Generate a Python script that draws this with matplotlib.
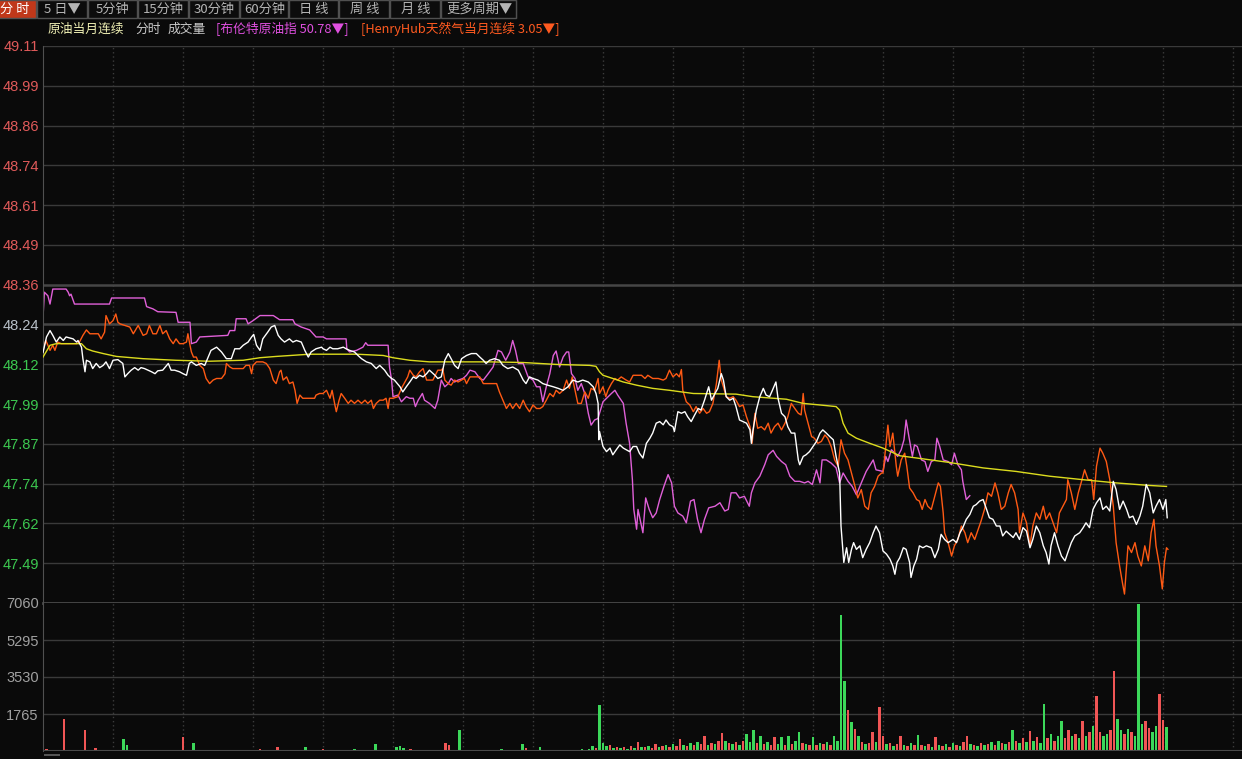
import numpy as np
import matplotlib
matplotlib.use('Agg')
import matplotlib.pyplot as plt
from matplotlib.patches import Rectangle

plt.rcParams['font.family'] = ['Noto Sans CJK SC', 'DejaVu Sans']

# ---- data (time index: 10 units per dotted grid column) ----
crude_t = [0, 0.5, 1.0, 1.4, 1.9, 2.4, 2.9, 3.3, 4.3, 4.8, 5.0, 5.5, 5.7, 6.0, 6.2, 6.7, 7.1, 7.6, 8.1, 8.6,
           9.0, 9.5, 10.0, 10.7, 11.4, 11.7, 12.1, 12.6, 13.1, 13.6, 14.0, 14.5, 15.0, 15.5, 16.0, 16.4, 17.1,
           17.9, 18.3, 18.8, 19.5, 20.0, 20.5, 20.9, 21.2, 21.9, 22.6, 23.1, 23.6, 24.0, 24.8, 25.5, 26.2, 26.9,
           27.4, 28.1, 28.6, 29.3, 29.8, 30.1, 30.5, 31.0, 31.4, 32.1, 32.6, 33.1, 33.6, 34.0, 34.5, 35.2, 35.7,
           36.2, 36.9, 37.4, 37.9, 38.3, 39.0, 39.8, 40.0, 40.5, 41.0, 41.4, 42.1, 42.9, 43.3, 43.8, 44.5, 45.0,
           45.5, 46.2, 46.9, 47.6, 48.1, 48.8, 49.3, 49.8, 50.2, 51.0, 51.4, 51.9, 52.4, 52.9, 53.3, 53.8, 54.3,
           54.8, 55.2, 56.0, 56.4, 56.9, 57.4, 57.9, 58.3, 58.8, 59.3, 59.8, 60.5, 61.2, 61.9, 62.4, 62.9, 63.3,
           63.8, 64.5, 65.2, 65.7, 66.4, 67.1, 67.9, 68.6, 69.0, 69.5, 70.0, 70.7, 71.4, 72.1, 72.9, 73.6, 74.3,
           75.0, 75.7, 76.4, 77.1, 77.9, 78.6, 79.0, 79.3, 79.4, 79.5, 80.0, 80.5, 81.0, 81.4, 81.9, 82.4, 82.9,
           83.3, 83.8, 84.3, 84.8, 85.2, 85.7, 86.2, 86.7, 87.1, 87.6, 88.1, 88.6, 89.0, 89.5, 90.0, 90.2, 90.7,
           91.2, 91.7, 92.1, 92.6, 93.1, 93.6, 94.0, 94.5, 95.1, 95.5, 96.0, 96.4, 96.9, 97.2, 97.6, 98.1, 98.6,
           99.0, 99.5, 100.0, 100.5, 101.0, 101.2, 101.4, 101.9, 102.4, 102.9, 103.3, 103.8, 104.2, 104.7, 105.0,
           105.5, 106.0, 106.4, 106.9, 107.4, 107.9, 108.1, 108.6, 109.0, 109.5, 110.0, 110.5, 111.0, 111.4,
           111.9, 112.4, 112.9, 113.3, 113.8, 114.0, 114.4, 114.8, 115.1, 115.5, 115.8, 116.2, 116.7, 117.1,
           117.6, 118.1, 118.6, 119.0, 119.5, 120.0, 120.5, 121.0, 121.4, 121.7, 122.0, 122.4, 122.9, 123.3,
           123.8, 124.0, 124.4, 124.8, 125.2, 125.7, 126.2, 126.9, 127.4, 127.9, 128.3, 128.8, 129.3, 130.0,
           130.5, 131.0, 131.4, 131.9, 132.4, 132.9, 133.3, 133.8, 134.3, 134.8, 135.2, 135.7, 136.2, 136.7,
           137.1, 137.6, 138.1, 138.6, 139.0, 139.5, 140.0, 140.5, 141.0, 141.4, 141.9, 142.4, 142.9, 143.3,
           143.7, 144.0, 144.5, 145.0, 145.5, 146.0, 146.4, 146.9, 147.4, 148.1, 148.6, 149.0, 149.5, 150.0,
           150.5, 151.0, 151.4, 151.9, 152.4, 152.9, 153.3, 153.8, 154.3, 154.8, 155.2, 155.7, 156.2, 156.7,
           157.1, 157.6, 158.1, 158.6, 159.0, 159.5, 160.0, 160.4, 160.6]
crude_v = [48.15, 48.199, 48.219, 48.204, 48.183, 48.199, 48.188, 48.199, 48.193, 48.183, 48.188, 48.167, 48.131,
           48.09, 48.126, 48.121, 48.10, 48.116, 48.103, 48.11, 48.121, 48.10, 48.126, 48.128, 48.116, 48.074,
           48.084, 48.095, 48.103, 48.095, 48.103, 48.10, 48.095, 48.09, 48.084, 48.093, 48.095, 48.116, 48.095,
           48.095, 48.09, 48.084, 48.079, 48.116, 48.121, 48.11, 48.116, 48.11, 48.136, 48.157, 48.167, 48.152,
           48.131, 48.131, 48.162, 48.162, 48.173, 48.183, 48.199, 48.207, 48.173, 48.157, 48.193, 48.214, 48.23,
           48.235, 48.204, 48.193, 48.183, 48.193, 48.183, 48.188, 48.183, 48.157, 48.136, 48.152, 48.162, 48.167,
           48.162, 48.157, 48.167, 48.162, 48.162, 48.167, 48.162, 48.157, 48.152, 48.141, 48.131, 48.121, 48.116,
           48.10, 48.11, 48.095, 48.079, 48.069, 48.064, 48.043, 48.027, 48.043, 48.058, 48.074, 48.069, 48.079,
           48.074, 48.084, 48.095, 48.079, 48.069, 48.074, 48.126, 48.147, 48.131, 48.11, 48.10, 48.131, 48.141,
           48.147, 48.147, 48.136, 48.126, 48.116, 48.126, 48.131, 48.126, 48.11, 48.10, 48.105, 48.095, 48.064,
           48.053, 48.074, 48.069, 48.064, 48.053, 48.048, 48.043, 48.038, 48.032, 48.043, 48.064, 48.058, 48.064,
           48.058, 48.043, 48.022, 47.991, 47.877, 47.903, 47.856, 47.84, 47.851, 47.83, 47.846, 47.861, 47.851,
           47.846, 47.84, 47.856, 47.856, 47.835, 47.82, 47.866, 47.882, 47.898, 47.929, 47.934, 47.924, 47.939,
           47.924, 47.918, 47.903, 47.965, 47.96, 47.965, 47.949, 47.934, 47.955, 47.975, 47.97, 48.001, 48.043,
           48.001, 48.022, 48.038, 48.084, 48.064, 48.012, 48.001, 48.007, 47.981, 47.939, 47.934, 47.929, 47.908,
           47.866, 47.903, 47.97, 48.012, 48.038, 48.017, 48.012, 48.032, 48.058, 48.007, 47.96, 47.949, 47.918,
           47.898, 47.898, 47.814, 47.799, 47.825, 47.83, 47.84, 47.856, 47.872, 47.898, 47.908, 47.898, 47.887,
           47.877, 47.825, 47.773, 47.607, 47.493, 47.539, 47.493, 47.534, 47.555, 47.534, 47.545, 47.508, 47.534,
           47.555, 47.586, 47.607, 47.586, 47.529, 47.519, 47.503, 47.482, 47.456, 47.493, 47.508, 47.539, 47.534,
           47.493, 47.446, 47.482, 47.503, 47.545, 47.539, 47.545, 47.539, 47.508, 47.534, 47.581, 47.565, 47.555,
           47.565, 47.555, 47.586, 47.602, 47.628, 47.643, 47.669, 47.674, 47.685, 47.69, 47.659, 47.633, 47.628,
           47.607, 47.607, 47.576, 47.591, 47.581, 47.571, 47.586, 47.565, 47.602, 47.591, 47.539, 47.565, 47.607,
           47.586, 47.545, 47.524, 47.488, 47.545, 47.586, 47.545, 47.513, 47.498, 47.524, 47.555, 47.576, 47.586,
           47.602, 47.617, 47.602, 47.659, 47.68, 47.695, 47.659, 47.669, 47.654, 47.747, 47.721, 47.659, 47.685,
           47.659, 47.633, 47.638, 47.612, 47.638, 47.669, 47.737, 47.711, 47.648, 47.669, 47.69, 47.659, 47.69,
           47.633]

avg_t = [0, 1.0, 1.9, 4.8, 5.5, 6.2, 7.1, 8.6, 10.5, 14.3, 19.0, 23.8, 28.6, 31.0, 33.3, 38.1, 40.0, 44.8, 48.6,
         50.0, 52.4, 55.2, 59.0, 63.8, 68.6, 73.3, 78.1, 79.0, 79.5, 80.0, 81.4, 82.9, 84.8, 87.1, 89.5, 92.9,
         99.0, 101.4, 106.2, 108.6, 111.0, 113.3, 113.8, 114.3, 115.0, 116.2, 118.1, 120.0, 122.4, 124.8, 129.5,
         134.3, 139.0, 143.8, 148.6, 153.3, 158.1, 160.5]
avg_v = [48.136, 48.173, 48.178, 48.178, 48.178, 48.162, 48.155, 48.147, 48.138, 48.131, 48.126, 48.123, 48.126,
         48.134, 48.138, 48.145, 48.145, 48.145, 48.141, 48.134, 48.126, 48.121, 48.121, 48.121, 48.119, 48.113,
         48.11, 48.107, 48.09, 48.079, 48.069, 48.058, 48.048, 48.038, 48.032, 48.022, 48.02, 48.012, 48.004,
         47.991, 47.986, 47.981, 47.97, 47.929, 47.898, 47.882, 47.866, 47.851, 47.827, 47.82, 47.806, 47.789,
         47.778, 47.763, 47.752, 47.742, 47.734, 47.731]

brent_t = [0, 0.2, 0.7, 1.0, 1.4, 3.3, 3.6, 3.8, 4.0, 4.5, 9.5, 9.8, 14.5, 14.8, 15.7, 16.4, 19.0, 19.3, 21.0, 21.2,
           21.9, 22.4, 26.4, 26.7, 27.4, 27.6, 29.0, 29.3, 30.0, 31.0, 32.9, 33.8, 35.7, 36.0, 36.9, 38.1, 39.0,
           40.0, 40.5, 43.3, 43.4, 43.8, 44.8, 45.7, 46.1, 46.4, 49.3, 49.5, 49.8, 50.0, 50.7, 51.2, 51.9, 52.4,
           52.9, 53.2, 53.6, 54.2, 54.5, 55.2, 56.0, 56.4, 56.9, 57.4, 57.9, 58.3, 58.8, 59.3, 60.0, 60.5, 61.0,
           61.7, 62.4, 62.9, 63.6, 64.3, 65.0, 65.5, 66.1, 66.7, 67.1, 67.5, 67.9, 68.6, 69.3, 70.0, 70.5, 71.0,
           71.4, 71.9, 72.4, 72.9, 73.3, 73.8, 74.3, 74.8, 75.1, 75.5, 76.0, 76.4, 76.9, 77.4, 77.9, 78.3, 78.8,
           79.3, 79.5, 80.0, 80.5, 81.2, 81.7, 82.1, 82.9, 83.3, 83.8, 84.2, 84.4, 84.6, 84.8, 85.0, 85.3, 85.7,
           86.1, 86.6, 87.1, 87.6, 88.1, 88.7, 89.3, 89.8, 90.2, 90.7, 91.4, 91.9, 92.5, 93.0, 93.5, 94.0, 94.5,
           95.1, 96.0, 96.7, 97.4, 97.9, 98.3, 99.0, 99.5, 100.2, 100.9, 101.2, 101.7, 102.4, 103.1, 103.6, 104.3,
           104.8, 105.5, 106.1, 106.7, 107.4, 108.1, 108.8, 109.3, 109.9, 110.5, 111.0, 111.3, 111.9, 112.6,
           113.3, 113.8, 114.3, 115.0, 115.6, 116.2, 116.9, 117.6, 118.6, 119.0, 120.0, 120.4, 120.7, 121.2,
           121.7, 122.1, 122.6, 123.0, 123.3, 123.7, 124.2, 124.5, 124.9, 125.5, 126.0, 126.4, 126.9, 127.4,
           127.7, 128.1, 128.6, 129.3, 129.8, 130.2, 130.7, 131.2, 131.4, 131.9, 132.4]
brent_v = [48.26, 48.339, 48.328, 48.302, 48.349, 48.349, 48.339, 48.328, 48.333, 48.302, 48.302, 48.321, 48.321,
           48.294, 48.287, 48.278, 48.276, 48.245, 48.245, 48.178, 48.183, 48.199, 48.204, 48.219, 48.219, 48.256,
           48.256, 48.24, 48.25, 48.266, 48.266, 48.253, 48.253, 48.24, 48.23, 48.221, 48.199, 48.199, 48.193,
           48.193, 48.162, 48.152, 48.157, 48.167, 48.181, 48.173, 48.173, 48.105, 48.064, 48.012, 48.017, 47.996,
           48.012, 48.007, 48.007, 47.981, 48.001, 48.022, 48.001, 47.991, 47.975, 48.001, 48.064, 48.043, 48.053,
           48.069, 48.058, 48.064, 48.069, 48.079, 48.095, 48.09, 48.069, 48.064, 48.084, 48.105, 48.157, 48.152,
           48.126, 48.152, 48.188, 48.157, 48.116, 48.116, 48.074, 48.064, 48.043, 48.043, 47.996, 48.043, 48.084,
           48.141, 48.155, 48.105, 48.136, 48.152, 48.152, 48.084, 48.069, 48.032, 48.053, 48.022, 47.96, 47.923,
           47.939, 47.944, 47.96, 47.996, 48.007, 48.022, 48.032, 48.017, 47.991, 47.929, 47.866, 47.752,
           47.659, 47.628, 47.597, 47.659, 47.628, 47.586, 47.695, 47.659, 47.633, 47.648, 47.69, 47.731, 47.768,
           47.742, 47.669, 47.648, 47.638, 47.617, 47.685, 47.69, 47.628, 47.586, 47.628, 47.664, 47.669, 47.68,
           47.654, 47.659, 47.711, 47.711, 47.695, 47.70, 47.669, 47.711, 47.742, 47.763, 47.799, 47.83, 47.844,
           47.825, 47.809, 47.799, 47.763, 47.747, 47.747, 47.742, 47.747, 47.737, 47.783, 47.742, 47.814, 47.814,
           47.804, 47.789, 47.742, 47.773, 47.747, 47.731, 47.705, 47.742, 47.778, 47.814, 47.783, 47.778, 47.825,
           47.809, 47.846, 47.835, 47.825, 47.846, 47.877, 47.939, 47.887, 47.825, 47.861, 47.856, 47.814, 47.809,
           47.778, 47.809, 47.814, 47.882, 47.856, 47.814, 47.809, 47.799, 47.835, 47.799, 47.783, 47.747, 47.69,
           47.702]

gas_t = [0, 0.4, 0.7, 1.0, 1.4, 1.7, 2.1, 2.6, 3.3, 4.8, 5.2, 5.7, 6.2, 6.7, 7.1, 7.9, 8.3, 8.8, 9.0, 9.5, 10.0,
         10.4, 10.7, 11.0, 11.7, 12.4, 12.9, 13.6, 14.3, 14.8, 15.2, 15.7, 16.2, 16.7, 17.1, 17.6, 18.1, 18.6,
         19.0, 19.5, 20.0, 20.5, 20.7, 21.0, 21.2, 21.5, 21.9, 22.4, 22.9, 23.3, 23.8, 24.3, 24.8, 25.5, 26.0,
         26.2, 26.7, 27.1, 27.6, 28.1, 28.6, 29.0, 29.5, 29.8, 30.0, 30.5, 31.4, 31.9, 32.4, 32.9, 33.3, 33.8,
         34.0, 34.3, 34.8, 35.2, 35.7, 36.0, 36.3, 36.7, 37.1, 37.6, 38.1, 38.8, 39.0, 39.5, 40.0, 40.5, 41.0,
         41.3, 41.7, 41.9, 42.3, 42.6, 43.1, 43.6, 44.0, 44.5, 45.0, 45.5, 46.0, 46.4, 46.9, 47.2, 47.6, 48.1,
         48.6, 49.0, 49.3, 49.5, 50.0, 50.7, 51.2, 51.7, 52.1, 52.4, 52.9, 53.3, 53.8, 54.3, 54.8, 55.2, 55.7,
         56.4, 56.9, 57.1, 57.4, 57.9, 58.3, 58.8, 59.3, 59.8, 60.2, 60.5, 61.0, 61.7, 62.4, 62.9, 63.8, 64.8,
         65.2, 65.7, 66.2, 66.7, 67.1, 67.6, 68.1, 68.6, 69.0, 69.5, 70.0, 70.5, 71.0, 71.4, 71.9, 72.4, 72.9,
         73.3, 73.8, 74.3, 74.8, 75.2, 75.6, 76.0, 76.4, 76.9, 77.4, 77.9, 78.3, 78.8, 79.3, 79.5, 80.0, 80.4,
         80.7, 81.2, 81.7, 82.1, 82.6, 83.3, 83.8, 84.3, 84.8, 85.5, 86.0, 86.4, 87.1, 87.9, 88.6, 89.0, 89.5,
         90.0, 90.5, 90.9, 91.2, 91.4, 91.9, 92.4, 92.9, 93.3, 93.8, 94.3, 94.8, 95.2, 95.7, 96.2, 96.6, 96.9,
         97.2, 97.6, 98.1, 98.6, 99.0, 99.5, 100.0, 100.5, 101.0, 101.3, 101.7, 102.1, 102.6, 103.1, 103.6,
         104.0, 104.5, 105.0, 105.5, 106.0, 106.4, 106.9, 107.4, 107.9, 108.3, 108.6, 108.8, 109.3, 109.8,
         110.2, 110.7, 111.2, 111.7, 112.1, 112.6, 113.1, 113.6, 114.0, 114.5, 115.0, 115.5, 116.0, 116.4,
         116.9, 117.4, 117.9, 118.3, 118.8, 119.3, 119.8, 120.0, 120.4, 120.7, 121.0, 121.4, 121.9, 122.1,
         122.6, 123.1, 123.4, 123.8, 124.3, 124.8, 125.2, 125.6, 126.0, 126.4, 126.9, 127.4, 127.9, 128.2,
         128.6, 128.8, 129.3, 129.8, 130.2, 130.7, 131.2, 131.7, 132.1, 132.6, 133.1, 133.6, 134.0, 134.5,
         135.0, 135.5, 136.0, 136.4, 136.9, 137.4, 137.9, 138.3, 138.8, 139.3, 139.5, 140.0, 140.5, 141.0,
         141.4, 141.9, 142.4, 142.9, 143.3, 143.8, 144.3, 144.8, 145.2, 145.7, 146.2, 146.4, 146.9, 147.4,
         147.9, 148.3, 148.8, 149.3, 149.8, 150.1, 150.5, 151.0, 151.4, 151.9, 152.4, 152.9, 153.3, 153.8,
         154.2, 154.5, 155.0, 155.5, 156.0, 156.4, 156.9, 157.4, 157.9, 158.3, 158.7, 159.0, 159.5, 159.9,
         160.2, 160.5, 160.7]
gas_v = [48.157, 48.188, 48.173, 48.157, 48.173, 48.157, 48.183, 48.178, 48.178, 48.178, 48.183, 48.204, 48.221,
         48.209, 48.209, 48.209, 48.193, 48.214, 48.266, 48.24, 48.25, 48.271, 48.245, 48.24, 48.235, 48.23,
         48.209, 48.235, 48.204, 48.209, 48.235, 48.209, 48.209, 48.235, 48.209, 48.219, 48.193, 48.178, 48.193,
         48.178, 48.178, 48.183, 48.209, 48.173, 48.152, 48.136, 48.136, 48.11, 48.10, 48.069, 48.053, 48.064,
         48.069, 48.069, 48.084, 48.116, 48.105, 48.10, 48.10, 48.10, 48.10, 48.11, 48.11, 48.084, 48.11, 48.121,
         48.121, 48.116, 48.10, 48.064, 48.053, 48.09, 48.095, 48.064, 48.074, 48.053, 48.058, 48.032, 47.991,
         48.017, 48.007, 48.007, 48.007, 48.007, 48.017, 48.022, 48.022, 48.032, 48.007, 48.032, 47.986, 47.965,
         48.001, 48.022, 48.007, 47.991, 48.001, 47.991, 48.001, 47.991, 48.001, 47.991, 48.001, 47.975, 47.991,
         48.001, 48.001, 48.007, 47.975, 48.007, 48.007, 48.012, 48.038, 48.058, 48.074, 48.095, 48.079, 48.074,
         48.09, 48.10, 48.064, 48.064, 48.064, 48.095, 48.095, 48.10, 48.064, 48.053, 48.048, 48.064, 48.058,
         48.064, 48.069, 48.053, 48.074, 48.074, 48.074, 48.053, 48.053, 48.053, 48.027, 48.001, 47.975, 47.991,
         47.975, 47.991, 47.975, 48.001, 47.981, 47.965, 47.986, 47.975, 47.975, 47.981, 48.001, 48.022, 48.012,
         48.032, 48.022, 48.032, 48.064, 48.038, 48.074, 48.032, 47.991, 47.991, 48.027, 48.007, 48.038, 48.032,
         48.069, 48.022, 48.043, 48.012, 48.032, 48.053, 48.069, 48.064, 48.074, 48.064, 48.058, 48.079,
         48.079, 48.079, 48.069, 48.079, 48.069, 48.069, 48.064, 48.069, 48.095, 48.074, 48.084, 48.074, 48.097,
         48.032, 47.996, 47.986, 47.965, 47.981, 47.96, 47.975, 47.96, 47.965, 47.991, 48.053, 48.126, 48.064,
         48.043, 48.012, 48.007, 48.012, 48.001, 47.981, 47.986, 47.949, 47.918, 47.866, 47.96, 47.913, 47.918,
         47.908, 47.929, 47.898, 47.918, 47.929, 47.908, 47.929, 47.949, 47.991, 47.975, 47.96, 47.955, 48.022,
         47.97, 47.929, 47.887, 47.882, 47.866, 47.872, 47.892, 47.882, 47.856, 47.814, 47.794, 47.877, 47.835,
         47.814, 47.773, 47.731, 47.695, 47.721, 47.669, 47.659, 47.711, 47.731, 47.763, 47.773, 47.773, 47.856,
         47.923, 47.856, 47.898, 47.794, 47.763, 47.814, 47.835, 47.794, 47.726, 47.711, 47.69, 47.685, 47.659,
         47.69, 47.669, 47.659, 47.70, 47.742, 47.731, 47.648, 47.586, 47.555, 47.513, 47.545, 47.565, 47.607,
         47.586, 47.555, 47.586, 47.565, 47.597, 47.622, 47.659, 47.711, 47.70, 47.742, 47.711, 47.659, 47.669,
         47.711, 47.737, 47.711, 47.659, 47.586, 47.648, 47.617, 47.545, 47.607, 47.648, 47.628, 47.669, 47.628,
         47.648, 47.617, 47.586, 47.648, 47.669, 47.69, 47.752, 47.711, 47.659, 47.711, 47.742, 47.783, 47.752,
         47.752, 47.69, 47.794, 47.851, 47.835, 47.809, 47.752, 47.669, 47.555, 47.482, 47.43, 47.394, 47.545,
         47.524, 47.555, 47.513, 47.482, 47.545, 47.498, 47.586, 47.628, 47.545, 47.482, 47.41, 47.493, 47.539,
         47.534]

# volume, one bar every half time unit
vol = [60, 110, 50, 40, 60, 50, 1513, 60, 40, 50, 50, 40, 1000, 70, 50, 120, 40, 50, 40, 60,
       50, 40, 60, 550, 300, 40, 50, 60, 40, 50, 60, 40, 50, 40, 60, 50, 40, 50, 60, 40,
       650, 50, 60, 400, 40, 60, 50, 40, 60, 50, 40, 60, 50, 40, 50, 60, 40, 50, 60, 40,
       50, 60, 110, 40, 50, 60, 40, 170, 50, 40, 60, 50, 40, 60, 50, 170, 40, 60, 50, 40,
       100, 50, 40, 60, 50, 40, 60, 50, 40, 100, 50, 60, 40, 50, 60, 320, 50, 60, 40, 50,
       60, 200, 250, 150, 50, 100, 40, 60, 50, 40, 60, 50, 40, 60, 50, 400, 300, 40, 60, 1000,
       50, 40, 60, 50, 40, 60, 50, 40, 60, 50, 40, 80, 50, 40, 60, 50, 40, 320, 150, 50,
       50, 60, 170, 40, 60, 50, 40, 60, 50, 40, 60, 50, 70, 60, 80, 60, 100, 250, 150, 2200,
       400, 250, 300, 150, 200, 120, 180, 100, 250, 150, 440, 200, 180, 250, 150, 330, 200, 250, 300, 200,
       350, 250, 570, 300, 250, 400, 300, 450, 350, 700, 300, 400, 350, 500, 840, 500, 400, 350, 450, 300,
       500, 810, 450, 1020, 400, 700, 350, 450, 300, 680, 350, 650, 300, 700, 350, 500, 890, 400, 350, 300,
       650, 300, 400, 350, 450, 300, 700, 500, 6490, 3320, 1944, 1400, 1050, 700, 450, 350, 400, 890, 450, 2100,
       700, 350, 400, 250, 350, 700, 300, 250, 400, 300, 780, 300, 250, 350, 200, 650, 300, 250, 350, 200,
       400, 300, 250, 450, 730, 350, 300, 250, 400, 300, 350, 450, 300, 500, 400, 350, 450, 1000, 500, 400,
       600, 450, 970, 500, 650, 400, 2220, 600, 800, 500, 700, 1430, 600, 1000, 700, 800, 600, 1430, 700, 900,
       1215, 2640, 900, 700, 800, 1000, 3800, 1540, 1000, 800, 1050, 900, 700, 7015, 1300, 1430, 1100, 900, 1200, 2700,
       1460, 1130]
# r = down (red), g = up (green)
vol_dir = ''.join([
    'grgrgrrrgrggrrgrgrgr',
    'grgggrgrgrgrgrgrgrgr',
    'rgrgrgrgrgrgrgrgrgrg',
    'grrgrgrrgrgrgrggrgrg',
    'rgrgrgrgrgrgrgrgrgrg',
    'rgggrrgrgrgrgrgrrgrg',
    'grgrgrgrgrggrgrgrgrg',
    'rggrgrgrgrgrgrgrggrg',
    'ggrgrgrgrgrgrgrrgrgr',
    'grrgrgrgrrgrgrrgrgrg',
    'rgggrgrgrrggrgrggrgr',
    'grgrgrggggrgrgrgrrgr',
    'rgrgrrgrgrgrgrgrgrgr',
    'grgrrgrgrgrgrgrgrgrg',
    'rgrgrggrgrggrrgrgrgr',
    'grrggrrggrgrgggrrggr',
    'rg',
])

price_labels = ['47.49', '47.62', '47.74', '47.87', '47.99', '48.12', '48.24',
                '48.36', '48.49', '48.61', '48.74', '48.86', '48.99', '49.11']
vol_labels = ['1765', '3530', '5295', '7060']
buttons = ['分 时', '5 日▼', '5分钟', '15分钟', '30分钟', '60分钟', '日 线', '周 线', '月 线', '更多周期▼']

# ---- layout ----
W, H = 1242, 759
BG = '#0a0a0a'
GRID = '#3a3a3a'
P_LO, P_HI = 47.366, 49.11


def fx(px):
    return px / W


def fy(py):
    return 1 - py / H


fig = plt.figure(figsize=(W / 100, H / 100), dpi=100, facecolor=BG)
ax = fig.add_axes([fx(43), fy(603), 1 - fx(43), fy(46) - fy(603)], facecolor=BG)
axv = fig.add_axes([fx(43), fy(751), 1 - fx(43), fy(603) - fy(751)], facecolor=BG)

for a in (ax, axv):
    a.set_xlim(0, (W - 43) / 7)
    for s in ('top', 'right', 'bottom'):
        a.spines[s].set_visible(False)
    a.spines['left'].set_color('#505050')
    a.set_xticks([])
    a.tick_params(axis='y', length=0, pad=3)
    for t in np.arange(10, 172, 10):
        a.axvline(t, color='#3c3c3c', lw=1, ls=(0, (1, 2)), zorder=0)

# price panel
ax.set_ylim(P_LO, P_HI)
ticks = np.linspace(P_LO, P_HI, 15)[1:]
ax.set_yticks(ticks)
ax.set_yticklabels(price_labels, family='Liberation Sans', fontsize=10.5)
for lab, t in zip(ax.get_yticklabels(), ticks):
    if lab.get_text() == '48.24':
        lab.set_color('#b8c0c8')
    elif t > 48.3:
        lab.set_color('#e05a5a')
    else:
        lab.set_color('#3cc850')
for t, lab in zip(ticks, price_labels):
    strong = lab in ('48.24', '48.36')
    ax.axhline(t, color='#464646' if strong else GRID, lw=1.8 if strong else 1, zorder=0)
ax.axhline(P_LO, color='#4a4a4a', lw=2, zorder=0, clip_on=False)

ax.plot(avg_t, avg_v, color='#dcdc1e', lw=1.0, zorder=3)
ax.plot(brent_t, brent_v, color='#e060d8', lw=1.0, zorder=2)
ax.plot(gas_t, gas_v, color='#ff5a14', lw=1.0, zorder=2)
ax.plot(crude_t, crude_v, color='#ffffff', lw=1.0, zorder=4)

# volume panel
axv.set_ylim(0, 7060)
axv.set_yticks([1765, 3530, 5295, 7060])
axv.set_yticklabels(vol_labels, family='Liberation Sans', fontsize=10.5, color='#a0a0a0')
for v in (1765, 3530, 5295):
    axv.axhline(v, color=GRID, lw=1, zorder=0)
vcol = ['#f05555' if d == 'r' else '#3cd85a' for d in vol_dir]
axv.bar(np.arange(len(vol)) * 0.5, vol, width=0.4, color=vcol, linewidth=0, zorder=2)
axv.axhline(0, color='#4a4a4a', lw=1.5, zorder=3)

# toolbar
edges = [-8, 37, 88, 138, 189, 240, 289, 339, 390, 441, 517]
fig.patches.append(Rectangle((0, fy(19)), fx(518), fy(0) - fy(19), transform=fig.transFigure,
                             facecolor='#101010', edgecolor='none'))
for i, name in enumerate(buttons):
    x0, x1 = edges[i], edges[i + 1]
    active = i == 0
    fig.patches.append(Rectangle((fx(x0), fy(18)), fx(x1 - x0 - 1), fy(0) - fy(18), transform=fig.transFigure,
                                 facecolor='#c0381a' if active else '#0c0c0c',
                                 edgecolor='#505050', lw=1))
    fig.text(fx((x0 + x1) / 2), fy(9.5), name, ha='center', va='center', fontsize=9.5,
             color='#ffffff' if active else '#b4b4b4')

# legend line
legend = [('原油当月连续', 48, '#f0f0b4'), ('分时', 135, '#c8c8c8'), ('成交量', 168, '#c8c8c8'),
          ('[布伦特原油指 50.78▼]', 216, '#e050e0'), ('[HenryHub天然气当月连续 3.05▼]', 361, '#ff5a20')]
for txt, x, c in legend:
    fig.text(fx(x), fy(29), txt, ha='left', va='center', fontsize=9.2, color=c)

# scrollbar stub
fig.patches.append(Rectangle((fx(44), fy(756)), fx(16), fy(754) - fy(756), transform=fig.transFigure,
                             facecolor='#555555', edgecolor='none'))

fig.savefig('out.png', dpi=100, facecolor=BG)
